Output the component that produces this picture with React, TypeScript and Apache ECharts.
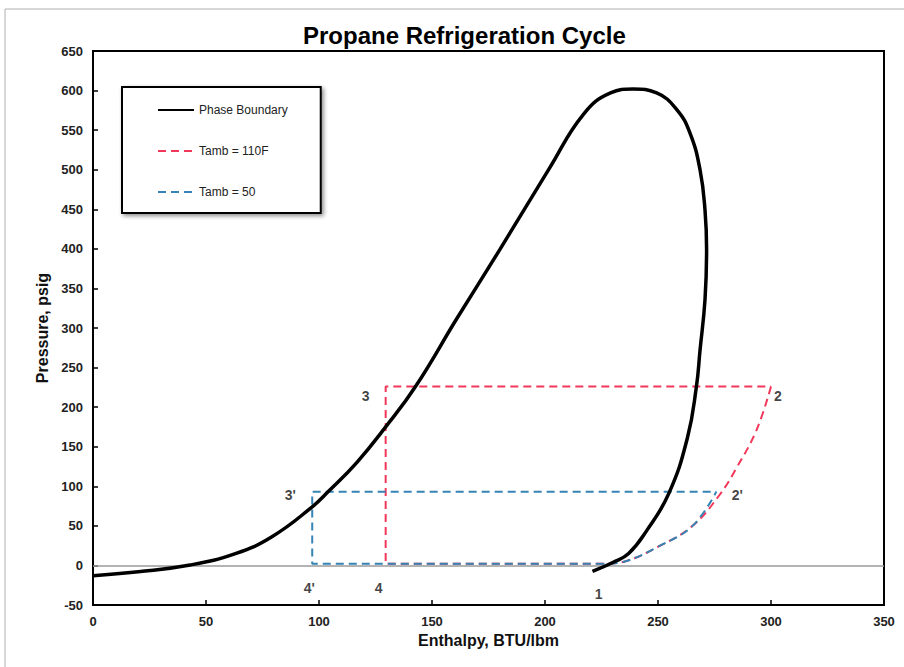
import React, { useEffect, useRef } from "react";
import * as echarts from "echarts";

// Phase boundary (enthalpy BTU/lbm, pressure psig), traced in path order
const phaseH = [0, 20, 43, 63, 79, 97, 104, 116.7, 129.5, 142.7, 161, 180, 202, 217, 229, 239, 249.4, 258.3, 264.2, 268.6, 270.8, 271.5, 270.8, 268.6, 267, 263, 254.8, 245, 237, 230.2, 221];
const phaseP = [-13, -8, 0.5, 15, 36, 74, 93, 130, 175, 226, 312, 399, 502, 570, 597, 602, 597, 576, 546, 500, 449, 399, 336, 272, 226, 161, 91, 44, 15, 4, -7.6];

// Tamb = 110F cycle: 1 -> 4 -> 3 -> 2 (straight legs), then compression curve 2 -> 1
const hotLegH = [226, 129.5, 129.5, 300];
const hotLegP = [2, 2, 226, 226];
const hotCurveH = [300, 293.6, 284.7, 277.2, 265.3, 250.3, 235.3, 226];
const hotCurveP = [226, 171, 123, 89, 50, 24, 5, 2];

// Tamb = 50 cycle: 1 -> 4' -> 3' -> 2', then compression curve 2' -> 1
const coldLegH = [226, 97, 97, 275.8];
const coldLegP = [2, 2, 93, 93];
const coldCurveH = [275.8, 265.3, 250.3, 235.3, 226];
const coldCurveP = [93, 50, 24, 5, 2];

// State point labels
const stateNames = ["3", "2", "3'", "2'", "4'", "4", "1"];
const stateH = [129.5, 300, 97, 275.8, 97, 129.5, 226];
const stateP = [226, 226, 93, 93, 2, 2, 2];

const xTicks = { min: 0, max: 350, interval: 50 };
const yTicks = { min: -50, max: 650, interval: 50 };

const seriesNames = ["Phase Boundary", "Tamb = 110F", "Tamb = 50"];

const zip = (a: number[], b: number[]) => a.map((v, i) => [v, b[i]]);

const RED = "#F2385A";
const BLUE = "#3584B5";
const FONT = "Liberation Sans, Arial, sans-serif";

export default function App() {
  const ref = useRef<HTMLDivElement>(null);
  useEffect(() => {
    if (!ref.current) return;
    const chart = echarts.init(ref.current, null, { renderer: "svg" });
    const labelOffsets: Record<string, number[]> = {
      "3": [-20, 9],
      "2": [7, 9],
      "3'": [-22, 3],
      "2'": [21, 3],
      "4'": [-3, 24],
      "4": [-7, 24],
      "1": [-5, 30],
    };
    chart.setOption({
      animation: false,
      backgroundColor: "#ffffff",
      textStyle: { fontFamily: FONT },
      title: {
        text: "Propane Refrigeration Cycle",
        left: 298,
        top: 18,
        textStyle: { fontSize: 24, fontWeight: "bold", color: "#000", fontFamily: FONT },
      },
      graphic: [
        {
          type: "rect",
          shape: { x: 5, y: 9, width: 910, height: 680 },
          style: { fill: "none", stroke: "#b0b0b0", lineWidth: 1 },
          silent: true,
          z: -1,
        },
      ],
      legend: {
        data: seriesNames,
        orient: "vertical",
        left: 122,
        top: 87,
        itemWidth: 36,
        itemHeight: 14,
        itemGap: 29,
        padding: [17, 33, 15, 35],
        borderColor: "#000",
        borderWidth: 2,
        backgroundColor: "#fff",
        shadowBlur: 4,
        shadowOffsetX: 2,
        shadowOffsetY: 2,
        shadowColor: "rgba(0,0,0,0.45)",
        itemStyle: { color: "rgba(0,0,0,0)", borderWidth: 0, opacity: 0 },
        textStyle: { fontSize: 12, color: "#222", fontFamily: FONT },
        selectedMode: false,
      },
      grid: {
        left: 93,
        right: 20,
        top: 51,
        bottom: 62,
        show: true,
        borderColor: "#000",
        borderWidth: 2,
        backgroundColor: "transparent",
      },
      xAxis: {
        type: "value",
        ...xTicks,
        name: "Enthalpy, BTU/lbm",
        nameLocation: "middle",
        nameGap: 27,
        nameTextStyle: { fontSize: 16, fontWeight: "bold", color: "#111", fontFamily: FONT },
        axisLine: { show: true, onZero: false, lineStyle: { color: "#000", width: 2 } },
        axisTick: { show: true, inside: true, length: 5, lineStyle: { color: "#000", width: 1.5 } },
        axisLabel: { fontSize: 13, fontWeight: "bold", color: "#222", margin: 10, fontFamily: FONT },
        splitLine: { show: false },
      },
      yAxis: {
        type: "value",
        ...yTicks,
        name: "Pressure, psig",
        nameLocation: "middle",
        nameGap: 31,
        nameTextStyle: { fontSize: 16, fontWeight: "bold", color: "#111", fontFamily: FONT },
        axisLine: { show: true, onZero: false, lineStyle: { color: "#000", width: 2 } },
        axisTick: { show: true, inside: true, length: 5, lineStyle: { color: "#000", width: 1.5 } },
        axisLabel: { fontSize: 13, fontWeight: "bold", color: "#222", margin: 10, fontFamily: FONT },
        splitLine: { show: false },
      },
      series: [
        {
          name: "Tamb = 110F",
          type: "line",
          data: zip(hotLegH, hotLegP),
          symbol: "none",
          lineStyle: { color: RED, width: 2, type: [8, 5] },
          itemStyle: { color: RED },
          z: 3,
        },
        {
          name: "Tamb = 110F",
          type: "line",
          data: zip(hotCurveH, hotCurveP),
          symbol: "none",
          smooth: 0.4,
          lineStyle: { color: RED, width: 2, type: [8, 5] },
          itemStyle: { color: RED },
          z: 3,
        },
        {
          name: "Tamb = 50",
          type: "line",
          data: zip(coldLegH, coldLegP),
          symbol: "none",
          lineStyle: { color: BLUE, width: 2, type: [8, 5] },
          itemStyle: { color: BLUE },
          z: 4,
        },
        {
          name: "Tamb = 50",
          type: "line",
          data: zip(coldCurveH, coldCurveP),
          symbol: "none",
          smooth: 0.4,
          lineStyle: { color: BLUE, width: 2, type: [8, 5], dashOffset: 4 },
          itemStyle: { color: BLUE },
          z: 4,
        },
        {
          name: "Phase Boundary",
          type: "line",
          data: zip(phaseH, phaseP),
          symbol: "none",
          smooth: 0.45,
          lineStyle: { color: "#000", width: 3.5 },
          itemStyle: { color: "#000" },
          z: 5,
          markLine: {
            silent: true,
            symbol: "none",
            label: { show: false },
            lineStyle: { color: "#9a9a9a", width: 1.5, type: "solid" },
            data: [{ yAxis: 0 }],
            z: 1,
          },
        },
        {
          name: "labels",
          type: "scatter",
          symbolSize: 0,
          silent: true,
          data: stateNames.map((n, i) => ({
            value: [stateH[i], stateP[i]],
            label: {
              show: true,
              formatter: n,
              position: "inside",
              offset: labelOffsets[n],
              fontSize: 14,
              fontWeight: "bold",
              color: "#111",
              fontFamily: FONT,
            },
          })),
          z: 6,
        },
      ],
    });
    return () => chart.dispose();
  }, []);
  return (
    <div
      ref={ref}
      style={{ position: "fixed", left: 0, top: 0, width: 904, height: 667 }}
    />
  );
}
